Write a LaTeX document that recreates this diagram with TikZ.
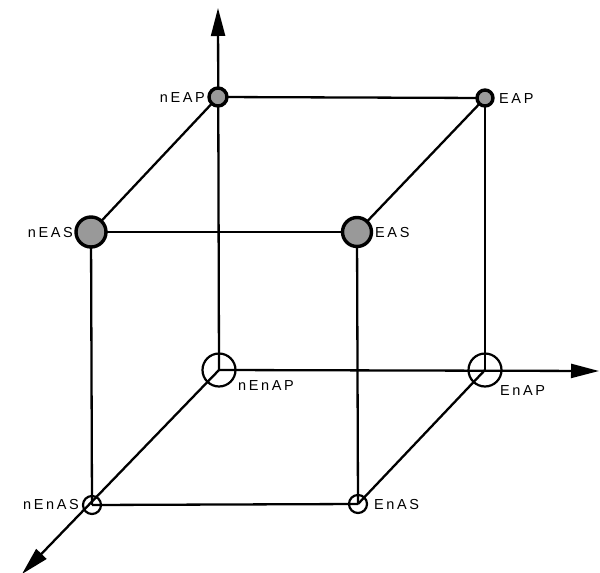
\documentclass[tikz,border=0pt]{standalone}
\usepackage{fontspec}
\setmainfont{Liberation Sans}[LetterSpace=18]
\usetikzlibrary{arrows.meta,backgrounds}
\begin{document}
\begin{tikzpicture}[x=1pt,y=-1pt,
  edge/.style={line width=2.3pt},
  axis/.style={line width=2.3pt,-{Triangle[length=28pt,width=14pt]}},
  shaded/.style={circle,draw,line width=3.4pt,fill=black!40,inner sep=0pt},
  open/.style={circle,draw,line width=2.2pt,inner sep=0pt},
  lab/.style={font=\fontsize{14.5}{16}\selectfont,inner sep=1pt}]
\useasboundingbox (0,0) rectangle (600,573);
% vertices
\node[shaded,minimum size=18pt] (nEAP) at (218,97) {};
\node[shaded,minimum size=16pt] (EAP) at (485,98) {};
\node[shaded,minimum size=30pt] (nEAS) at (91,232) {};
\node[shaded,minimum size=29pt] (EAS) at (357,232) {};
\node[open,minimum size=33pt] (nEnAP) at (219,370) {};
\node[open,minimum size=33pt] (EnAP) at (485,370) {};
\node[open,minimum size=18pt] (nEnAS) at (92,505) {};
\node[open,minimum size=18pt] (EnAS) at (358,504) {};
\coordinate (top) at (218,8);
\coordinate (right) at (599,371);
\coordinate (down) at (22,574);
% labels
\node[lab,anchor=east] (lnEAP) at (206,98) {nEAP};
\node[lab,anchor=west] (lEAP) at (498,99) {EAP};
\node[lab,anchor=east] (lnEAS) at (74,233) {nEAS};
\node[lab,anchor=west] (lEAS) at (374,233) {EAS};
\node[lab,anchor=west] (lnEnAP) at (237,386) {nEnAP};
\node[lab,anchor=west] (lEnAP) at (499,391) {EnAP};
\node[lab,anchor=east] (lnEnAS) at (80,505) {nEnAS};
\node[lab,anchor=west] (lEnAS) at (373,505) {EnAS};
\begin{pgfonlayer}{background}
\draw[edge] (nEAP.center) -- (EAP.center);
\draw[edge] (nEAS.center) -- (EAS.center);
\draw[edge] (nEnAS.center) -- (EnAS.center);
\draw[edge] (nEAP.center) -- (nEAS.center);
\draw[edge] (EAP.center) -- (EAS.center);
\draw[edge] (EnAP.center) -- (EnAS.center);
\draw[edge] (nEAS.center) -- (nEnAS.center);
\draw[edge] (EAS.center) -- (EnAS.center);
\draw[edge] (EAP.center) -- (EnAP.center);
\draw[axis] (nEnAP.center) -- (top);
\draw[axis] (nEnAP.center) -- (right);
\draw[axis] (nEnAP.center) -- (down);
\end{pgfonlayer}
\end{tikzpicture}
\end{document}
